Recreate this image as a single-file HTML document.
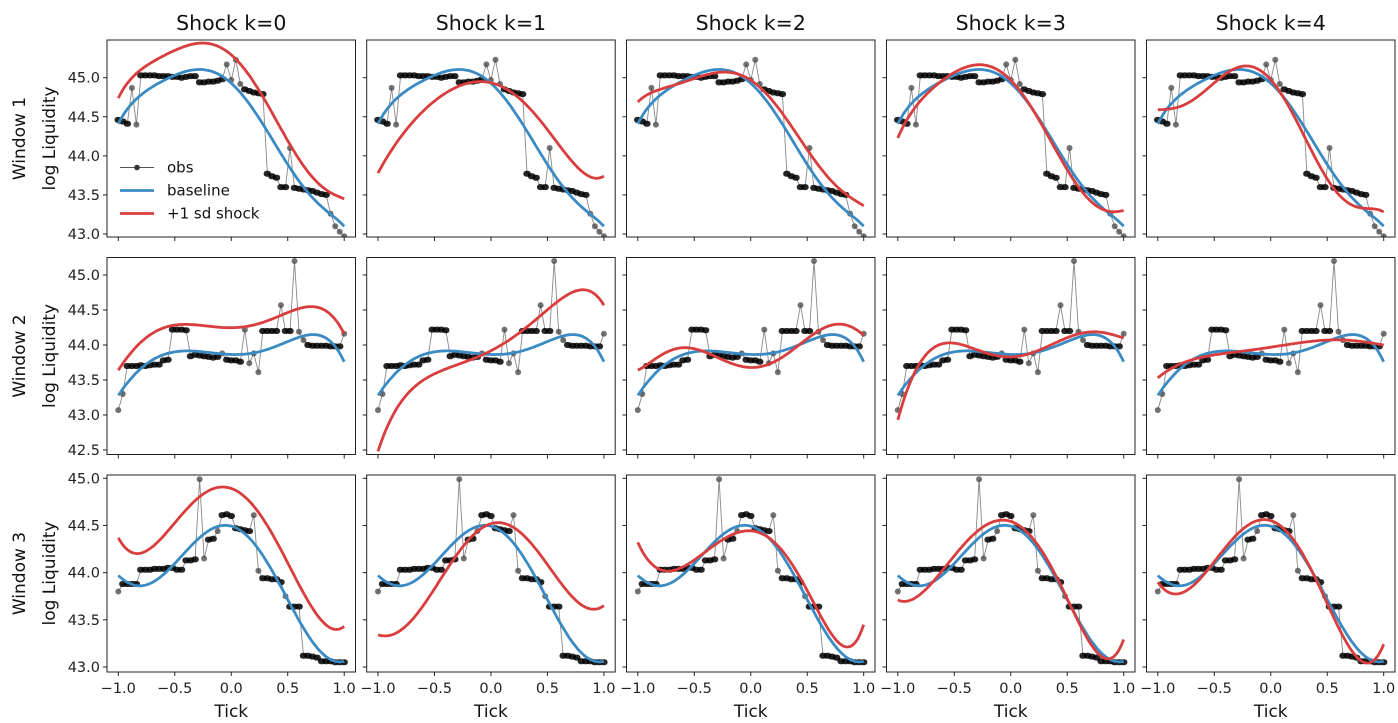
<!DOCTYPE html>
<html><head><meta charset="utf-8"><style>
html,body{margin:0;padding:0;background:#fff;}
svg{display:block;font-family:"DejaVu Sans","Liberation Sans",sans-serif;}
</style></head><body>
<svg id="fig" width="1398" height="723" viewBox="0 0 1398 723" xmlns="http://www.w3.org/2000/svg"></svg>
<script>
const shockTitles = ["Shock k=0","Shock k=1","Shock k=2","Shock k=3","Shock k=4"];
const windowNames = ["Window 1","Window 2","Window 3"];
const xTicks = [-1.0,-0.5,0.0,0.5,1.0];
const xTickLabels = ["\u22121.0","\u22120.5","0.0","0.5","1.0"];
const yTicksW1 = [43.0,43.5,44.0,44.5,45.0];
const yTicksW2 = [42.5,43.0,43.5,44.0,44.5,45.0];
const yTicksW3 = [43.0,43.5,44.0,44.5,45.0];
const curveX = [-1,-0.75,-0.5,-0.25,0,0.25,0.5,0.75,1];
const obsW1 = [44.46,44.44,44.41,44.87,44.40,45.03,45.03,45.03,45.03,45.02,45.02,45.02,45.01,45.01,45.0,45.01,45.02,45.02,44.94,44.94,44.95,44.95,44.96,44.98,45.17,44.97,45.23,44.92,44.85,44.83,44.81,44.80,44.79,43.77,43.74,43.72,43.6,43.6,44.1,43.59,43.58,43.57,43.56,43.55,43.53,43.51,43.5,43.26,43.1,43.03,42.97];
const obsW2 = [43.07,43.3,43.7,43.7,43.7,43.71,43.7,43.71,43.72,43.72,43.78,43.79,44.22,44.22,44.22,44.21,43.84,43.86,43.85,43.84,43.83,43.82,43.83,43.88,43.79,43.78,43.78,43.76,44.22,43.74,43.88,43.61,44.2,44.2,44.2,44.2,44.57,44.2,44.2,45.2,44.19,44.07,44.0,43.99,43.99,43.99,43.99,43.98,43.98,43.98,44.16];
const obsW3 = [43.8,43.88,43.88,43.88,43.88,44.03,44.03,44.03,44.04,44.04,44.04,44.05,44.05,44.03,44.03,44.13,44.13,44.14,44.99,44.15,44.35,44.36,44.44,44.61,44.62,44.6,44.47,44.46,44.45,44.44,44.61,44.02,43.94,43.94,43.93,43.93,43.9,43.75,43.64,43.64,43.64,43.12,43.12,43.11,43.1,43.06,43.06,43.06,43.05,43.05,43.05];
const baseW1 = [44.41,44.83,45.04,45.09,44.94,44.47,43.89,43.42,43.10];
const baseW2 = [43.28,43.73,43.9,43.91,43.85,43.92,44.04,44.15,43.76];
const baseW3 = [43.97,43.87,44.1,44.4,44.49,44.24,43.71,43.22,43.06];
const shockW1 = [
 [44.74,45.15,45.36,45.43,45.3,44.83,44.19,43.68,43.45],
 [43.78,44.33,44.71,44.9,44.94,44.74,44.33,43.88,43.74],
 [44.69,44.87,45.0,45.06,44.97,44.61,44.07,43.63,43.36],
 [44.23,44.78,45.07,45.16,44.97,44.46,43.82,43.37,43.3],
 [44.59,44.65,44.97,45.1,45.0,44.39,43.69,43.36,43.28]];
const shockW2 = [
 [43.64,44.11,44.28,44.28,44.25,44.3,44.47,44.54,44.16],
 [42.48,43.29,43.57,43.76,43.93,44.14,44.53,44.76,44.57],
 [43.64,43.9,43.93,43.81,43.67,43.79,44.1,44.29,44.14],
 [42.93,43.86,44.03,43.9,43.83,43.93,44.1,44.19,44.1],
 [43.53,43.76,43.86,43.91,43.97,44.03,44.07,44.06,44.0]];
const shockW3 = [
 [44.37,44.23,44.53,44.83,44.89,44.63,44.1,43.57,43.43],
 [43.34,43.44,43.82,44.29,44.5,44.45,44.08,43.71,43.65],
 [44.32,44.02,44.13,44.35,44.45,44.26,43.82,43.29,43.45],
 [43.71,43.82,44.19,44.47,44.54,44.29,43.71,43.18,43.29],
 [43.9,43.8,44.13,44.45,44.54,44.29,43.65,43.13,43.24]];

const NS="http://www.w3.org/2000/svg";
const svg=document.getElementById('fig');
function mk(tag,attrs,parent){const e=document.createElementNS(NS,tag);for(const k in attrs)e.setAttribute(k,attrs[k]);(parent||svg).appendChild(e);return e;}
const colLeft=[107,366.7,626.5,886.5,1146.5], W=248.5;
const rowTop=[40,257.5,475], H=197;
const rowScale=[[45.0,77.7,43.0,234],[45.0,275,42.5,450],[45.0,478.3,43.0,667]];
const obsAll=[obsW1,obsW2,obsW3], baseAll=[baseW1,baseW2,baseW3], shockAll=[shockW1,shockW2,shockW3];
const yTicksAll=[yTicksW1,yTicksW2,yTicksW3];
// least-squares polynomial fit (smooth rendering of read values)
function polyfit(xs,ys,deg){const m=deg+1;const A=[];for(let i=0;i<m;i++){A.push(new Array(m+1).fill(0));}
 for(let k=0;k<xs.length;k++){for(let i=0;i<m;i++){for(let j=0;j<m;j++)A[i][j]+=Math.pow(xs[k],i+j);A[i][m]+=ys[k]*Math.pow(xs[k],i);}}
 for(let i=0;i<m;i++){let p=i;for(let r=i+1;r<m;r++)if(Math.abs(A[r][i])>Math.abs(A[p][i]))p=r;[A[i],A[p]]=[A[p],A[i]];
  for(let r=0;r<m;r++){if(r===i)continue;const f=A[r][i]/A[i][i];for(let c=i;c<=m;c++)A[r][c]-=f*A[i][c];}}
 return A.map((row,i)=>row[m]/row[i]);}
function polyPath(vals,xs,ys){const co=polyfit(curveX,vals,6);let d='';
 for(let i=0;i<=120;i++){const x=-1+2*i/120;let v=0;for(let j=co.length-1;j>=0;j--)v=v*x+co[j];
  d+=(i?'L':'M')+xs(x).toFixed(1)+','+ys(v).toFixed(1);}return d;}
for(let r=0;r<3;r++){
 const s=rowScale[r]; const k=(s[3]-s[1])/(s[2]-s[0]);
 const ys=v=>s[1]+(v-s[0])*k;
 for(let c=0;c<5;c++){
  const L=colLeft[c], T=rowTop[r];
  const xs=v=>L+(v+1.1)/2.2*W;
  const g=mk('g',{});
  
  
  const cp=mk('clipPath',{id:'cp'+r+c},g); mk('rect',{x:L,y:T,width:W,height:H},cp);
  const plot=mk('g',{'clip-path':'url(#cp'+r+c+')'},g);
  const obs=obsAll[r]; const n=obs.length; const dx=(xs(1)-xs(-1))/(n-1);
  const op=obs.map((v,i)=>[xs(-1+2*i/(n-1)),ys(v)]);
  const ol=mk('polyline',{points:op.map(p=>p[0].toFixed(1)+','+p[1].toFixed(1)).join(' '),fill:'none',stroke:'#555',"stroke-width":0.9,"stroke-opacity":0.7},plot);
  
  
  op.forEach((p,i)=>{
   const flat=(i>0&&Math.abs(obs[i]-obs[i-1])<0.05)||(i<n-1&&Math.abs(obs[i]-obs[i+1])<0.05);
   const w=flat?dx+3:6;
   const d=mk('rect',{x:(p[0]-w/2).toFixed(1),y:(p[1]-3).toFixed(1),width:w.toFixed(1),height:6,rx:3,fill:flat?'#000':'#444','fill-opacity':flat?0.85:0.75},plot);
   
   });
  const bp=mk('path',{d:polyPath(baseAll[r],xs,ys),fill:'none',stroke:'#3a8bc4','stroke-width':2.8},plot);
  
  
  const sp=mk('path',{d:polyPath(shockAll[r][c],xs,ys),fill:'none',stroke:'#d93d3d','stroke-width':2.8},plot);
  
  
  const fr=mk('rect',{x:L,y:T,width:W,height:H,fill:'none',stroke:'#222','stroke-width':1},g);
  
  
  yTicksAll[r].forEach(v=>{const y=ys(v);mk('line',{x1:L-4,x2:L,y1:y,y2:y,stroke:'#222','stroke-width':1},g);
   if(c===0){const t=mk('text',{x:L-7,y:y+5,'text-anchor':'end','font-size':14.5,fill:'#222'},g);t.textContent=v.toFixed(1);
    
    }});
  xTicks.forEach((v,i)=>{const x=xs(v);mk('line',{x1:x,x2:x,y1:T+H,y2:T+H+4,stroke:'#222','stroke-width':1},g);
   if(r===2){const t=mk('text',{x:x,y:T+H+21,'text-anchor':'middle','font-size':14.5,fill:'#222'},g);t.textContent=xTickLabels[i];
    
    }});
  if(r===0){const t=mk('text',{x:L+W/2,y:30,'text-anchor':'middle','font-size':20.5,fill:'#111'},g);t.textContent=shockTitles[c];
   
   }
  if(r===2){const t=mk('text',{x:L+W/2,y:717,'text-anchor':'middle','font-size':17,fill:'#111'},g);t.textContent='Tick';
   
   }
  if(c===0){const cy=T+H/2;
   const t1=mk('text',{x:0,y:0,transform:'translate(55,'+cy+') rotate(-90)','text-anchor':'middle','font-size':17,fill:'#111'},g);t1.textContent='log Liquidity';
   
   
   const t2=mk('text',{x:0,y:0,transform:'translate(25,'+cy+') rotate(-90)','text-anchor':'middle','font-size':17,fill:'#111'},g);t2.textContent=windowNames[r];
   
   }
 }
}
const lg=mk('g',{});


const leg=[['obs','#555',167.5,1],['baseline','#3a8bc4',190.5,2.8],['+1 sd shock','#d93d3d',213.5,2.8]];
leg.forEach(e=>{mk('line',{x1:120,x2:154,y1:e[2],y2:e[2],stroke:e[1],'stroke-width':e[3]},lg);
 if(e[0]==='obs')mk('circle',{cx:137,cy:e[2],r:2.8,fill:'#333'},lg);
 const t=mk('text',{x:167,y:e[2]+5,'font-size':15,fill:'#111'},lg);t.textContent=e[0];
 
 });
</script>
</body></html>
